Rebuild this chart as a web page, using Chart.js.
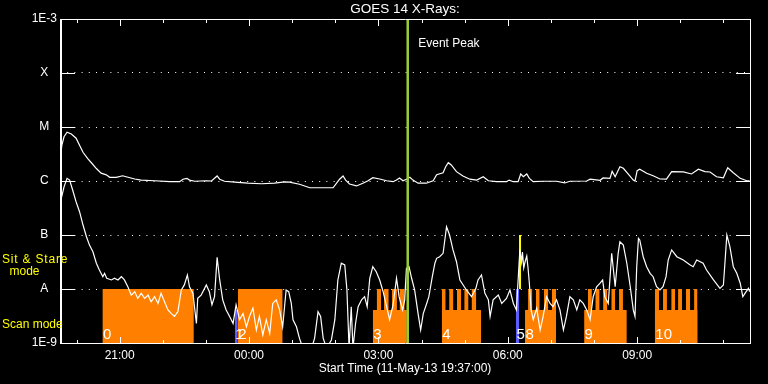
<!DOCTYPE html>
<html><head><meta charset="utf-8">
<script src="https://cdn.jsdelivr.net/npm/chart.js@4.4.1/dist/chart.umd.min.js"></script>
<style>html,body{margin:0;padding:0;background:#000;}canvas{display:block;}</style>
</head><body>
<canvas id="c" width="768" height="384"></canvas>
<script>
// ---- axis ranges / labels (hours of 11-May-13, >24 = next day) ----
const X_MIN = 19.6167, X_MAX = 35.6167;
const chartTitle = 'GOES 14 X-Rays:';
const xTitle = 'Start Time (11-May-13 19:37:00)';
const xTickValues = [21, 24, 27, 30, 33];
const xTickLabels = ['21:00', '00:00', '03:00', '06:00', '09:00'];
const xMinorTicks = [20, 21, 22, 23, 24, 25, 26, 27, 28, 29, 30, 31, 32, 33, 34, 35];
const yTickValues = [1e-9, 1e-8, 1e-7, 1e-6, 1e-5, 1e-4, 1e-3];
const yTickLabels = ['1E-9', 'A', 'B', 'C', 'M', 'X', '1E-3'];

// ---- GOES long channel (1-8 A), W/m^2 ----
const longTimes = [
19.63,19.66,19.71,19.78,19.88,19.99,20.07,20.15,20.26,20.34,
20.46,20.57,20.69,20.77,20.92,21.07,21.15,21.35,21.50,21.81,
22.16,22.39,22.47,22.56,22.62,22.74,23.01,23.13,23.26,23.32,
23.43,23.67,23.97,24.29,24.59,24.83,24.94,25.17,25.41,25.71,
25.95,26.03,26.10,26.18,26.24,26.33,26.49,26.64,26.76,26.87,
27.03,27.19,27.34,27.42,27.49,27.57,27.65,27.73,27.80,27.92,
28.11,28.27,28.35,28.50,28.56,28.62,28.69,28.81,28.96,29.12,
29.28,29.43,29.55,29.74,29.97,30.03,30.13,30.24,30.30,30.36,
30.44,30.50,30.59,30.82,31.13,31.32,31.44,31.83,31.91,32.14,
32.21,32.37,32.42,32.49,32.60,32.68,32.79,32.91,32.95,33.00,
33.06,33.22,33.37,33.53,33.68,33.80,34.07,34.26,34.42,34.57,
34.69,34.84,35.00,35.10,35.23,35.39,35.54,35.61];
const longFlux = [
2.9e-6,4.6e-6,6.6e-6,8.0e-6,7.4e-6,6.2e-6,4.6e-6,3.4e-6,2.6e-6,2.2e-6,
1.7e-6,1.4e-6,1.3e-6,1.17e-6,1.17e-6,1.25e-6,1.2e-6,1.09e-6,1.04e-6,1.01e-6,
9.7e-7,9.7e-7,1.08e-6,1.12e-6,1.04e-6,9.9e-7,1.01e-6,1.0e-6,1.24e-6,1.08e-6,
9.9e-7,9.5e-7,9.1e-7,8.9e-7,9.1e-7,9.6e-7,9.5e-7,8.7e-7,7.5e-7,7.5e-7,
7.5e-7,9.1e-7,1.08e-6,1.24e-6,1.04e-6,8.8e-7,8.1e-7,9.1e-7,1.01e-6,1.15e-6,
1.09e-6,1.01e-6,9.7e-7,1.04e-6,1.14e-6,1.01e-6,1.08e-6,1.17e-6,1.04e-6,9.1e-7,
9.1e-7,1.01e-6,1.31e-6,1.42e-6,1.84e-6,2.18e-6,1.98e-6,1.49e-6,1.24e-6,1.08e-6,
1.04e-6,1.2e-6,1.01e-6,9.7e-7,9.7e-7,1.04e-6,9.7e-7,9.7e-7,1.35e-6,1.2e-6,
1.35e-6,1.12e-6,9.7e-7,9.9e-7,9.9e-7,9.2e-7,9.9e-7,1.0e-6,1.08e-6,1.03e-6,
1.14e-6,1.12e-6,1.51e-6,1.2e-6,1.84e-6,1.72e-6,1.35e-6,1.04e-6,1.0e-6,1.55e-6,
1.65e-6,1.39e-6,1.25e-6,1.09e-6,1.08e-6,1.49e-6,1.47e-6,1.35e-6,1.65e-6,1.49e-6,
1.47e-6,1.2e-6,1.15e-6,1.76e-6,1.42e-6,1.12e-6,1.01e-6,1.01e-6];

// ---- GOES short channel (0.5-4 A), W/m^2 ----
const shortTimes = [
19.63,19.64,19.71,19.78,19.84,19.91,19.99,20.07,20.15,20.23,
20.30,20.38,20.46,20.53,20.61,20.65,20.70,20.81,20.88,20.96,
21.04,21.11,21.19,21.27,21.35,21.42,21.50,21.58,21.66,21.73,
21.81,21.89,21.96,22.04,22.12,22.20,22.27,22.35,22.43,22.50,
22.57,22.62,22.70,22.78,22.81,22.89,23.01,23.08,23.14,23.20,
23.26,23.32,23.39,23.47,23.55,23.63,23.70,23.78,23.86,23.94,
24.01,24.09,24.17,24.24,24.32,24.40,24.48,24.55,24.63,24.71,
24.78,24.86,24.92,24.98,25.02,25.10,25.17,25.25,25.45,25.52,
25.60,25.66,25.72,25.80,25.91,25.99,26.06,26.14,26.22,26.27,
26.32,26.37,26.41,26.47,26.53,26.61,26.68,26.74,26.80,26.87,
26.95,27.03,27.11,27.19,27.26,27.34,27.42,27.48,27.56,27.61,
27.65,27.71,27.77,27.84,27.92,27.98,28.04,28.11,28.17,28.25,
28.31,28.35,28.42,28.50,28.58,28.65,28.73,28.81,28.89,29.04,
29.16,29.26,29.31,29.39,29.47,29.55,29.59,29.66,29.78,29.86,
29.97,30.05,30.13,30.20,30.28,30.32,30.34,30.37,30.40,30.44,
30.47,30.50,30.54,30.59,30.67,30.75,30.82,30.90,30.98,31.05,
31.13,31.21,31.29,31.36,31.44,31.52,31.60,31.67,31.75,31.83,
31.91,31.98,32.06,32.14,32.20,32.25,32.33,32.41,32.45,32.49,
32.56,32.60,32.68,32.76,32.84,32.91,32.95,32.99,33.03,33.06,
33.14,33.22,33.30,33.37,33.45,33.53,33.60,33.67,33.72,33.80,
33.92,34.07,34.23,34.30,34.38,34.53,34.61,34.77,34.92,35.00,
35.04,35.08,35.15,35.23,35.31,35.39,35.45,35.50,35.58,35.61];
const shortFlux = [
2.5e-7,4.5e-7,7.8e-7,1.12e-6,1.04e-6,6.8e-7,4.1e-7,2.7e-7,1.53e-7,9.3e-8,
6.5e-8,4.9e-8,3.0e-8,2.25e-8,1.69e-8,1.95e-8,1.58e-8,1.47e-8,1.58e-8,1.47e-8,
1.69e-8,1.47e-8,1.1e-8,7.7e-9,8.9e-9,6.7e-9,8.3e-9,6.7e-9,7.7e-9,5.8e-9,
7.2e-9,5.4e-9,8.3e-9,5.8e-9,4.1e-9,3.5e-9,3.1e-9,3.8e-9,9.6e-9,1.19e-8,
1.82e-8,1.1e-8,8.3e-9,2.3e-9,6.7e-9,7.7e-9,1.19e-8,8.9e-9,5.1e-9,7.2e-9,
3.86e-8,1.47e-8,6.3e-9,4.1e-9,3.1e-9,2.3e-9,5.1e-9,2.7e-9,3.5e-9,2.0e-9,
3.1e-9,4.4e-9,1.74e-9,3.1e-9,1.41e-9,2.7e-9,1.51e-9,5.4e-9,6.3e-9,4.1e-9,
2.0e-9,9.6e-9,8.9e-9,5.4e-9,2.7e-9,2.0e-9,1.22e-9,8e-10,8e-10,1.22e-9,
3.8e-9,3.1e-9,1.22e-9,8e-10,1.14e-9,2.7e-9,1.47e-8,3.0e-8,2.8e-8,9.6e-9,
8e-10,4.7e-9,8e-10,2.3e-9,4.7e-9,6.3e-9,7.2e-9,4.7e-9,1.58e-8,2.59e-8,
2.09e-8,1.47e-8,8.9e-9,4.7e-9,2.7e-9,5.1e-9,1.58e-8,7.2e-9,4.1e-9,6.3e-9,
2.42e-8,2.59e-8,1.58e-8,9.6e-9,3.5e-9,1.74e-9,3.5e-9,5.1e-9,7.2e-9,1.69e-8,
3.0e-8,3.7e-8,3.96e-8,4.58e-8,1.42e-7,1.0e-7,5.3e-8,3.2e-8,1.47e-8,9.6e-9,
7.2e-9,1.03e-8,1.47e-8,1.82e-8,8.3e-9,6.3e-9,3.1e-9,6.3e-9,7.7e-9,5.4e-9,
6.7e-9,9.6e-9,5.4e-9,4.1e-9,5.3e-8,3.16e-8,4.84e-8,2.45e-8,3.16e-8,4.08e-8,
2.45e-8,1.29e-8,4.1e-9,2.7e-9,4.4e-9,1.74e-9,3.1e-9,7.2e-9,5.4e-9,4.7e-9,
6.3e-9,4.1e-9,1.74e-9,3.1e-9,7.2e-9,6.3e-9,4.1e-9,6.3e-9,5.4e-9,4.1e-9,
2.7e-9,7.2e-9,1.1e-8,1.28e-8,1.47e-8,7.2e-9,5.4e-9,4.58e-8,2.25e-8,1.1e-8,
4.58e-8,7.5e-8,6.5e-8,3.0e-8,1.1e-8,4.1e-9,3.1e-9,2.59e-8,8.7e-8,8.1e-8,
3.96e-8,2.59e-8,1.95e-8,1.69e-8,1.1e-8,9.6e-9,1.1e-8,1.69e-8,3.44e-8,5.3e-8,
3.96e-8,3.44e-8,2.78e-8,2.59e-8,3.44e-8,3.0e-8,2.25e-8,1.47e-8,1.03e-8,1.19e-8,
3.44e-8,1.0e-7,6.07e-8,2.59e-8,1.95e-8,1.28e-8,7.2e-9,8.3e-9,1.03e-8,8.9e-9];

// ---- observation mode intervals (hours) ----
const scanLevel = 1e-8, baseLevel = 4.1e-9, stareLevel = 1e-7;
const scanFull = [[20.60, 22.72], [23.74, 24.78]];
const scanBase = [[26.87, 27.66], [28.47, 29.38], [30.40, 31.12], [31.77, 32.76], [33.41, 34.40]];
const scanTeeth = [
  [26.96, 27.06], [27.13, 27.24], [27.31, 27.43], [27.49, 27.61],
  [28.47, 28.56], [28.64, 28.74], [28.82, 28.92], [28.99, 29.09], [29.16, 29.27],
  [30.47, 30.57], [30.65, 30.74], [30.84, 30.94], [31.02, 31.12],
  [31.86, 31.95], [32.03, 32.13], [32.21, 32.31], [32.40, 32.49], [32.58, 32.67],
  [33.41, 33.51], [33.60, 33.69], [33.79, 33.88], [33.95, 34.04], [34.13, 34.23], [34.32, 34.40]];
const blueBars = [[23.67, 23.74], [30.19, 30.26]];
const blueTops = [4.1e-9, 1e-8];
const yellowBars = [[30.26, 30.31]];
const eventPeak = 27.68;
const blockLabels = ['0', '1', '2', '3', '4', '5', '8', '9', '10'];
const blockLabelTimes = [20.60, 23.67, 23.74, 26.87, 28.47, 30.19, 30.40, 31.77, 33.41];

const FONT = 'Liberation Sans';

// one filled dataset per interval: a flat line at the top level filled down to a target
function rectDataset(label, a, b, top, fill, color, order) {
  return {label, data: [{x: a, y: top}, {x: b, y: top}], borderWidth: 0, borderColor: 'rgba(0,0,0,0)',
          backgroundColor: color, pointRadius: 0, fill, order};
}
const modeDatasets = [];
scanFull.forEach(([a, b]) => modeDatasets.push(rectDataset('Scan mode', a, b, scanLevel, 'start', '#ff8000', 3)));
scanBase.forEach(([a, b]) => modeDatasets.push(rectDataset('Scan mode', a, b, baseLevel, 'start', '#ff8000', 3)));
scanTeeth.forEach(([a, b]) => modeDatasets.push(rectDataset('Scan mode', a, b, scanLevel, 'start', '#ff8000', 3)));
blueBars.forEach(([a, b], i) => modeDatasets.push(rectDataset('Transition', a, b, blueTops[i], 'start', '#5c5cff', 2)));
yellowBars.forEach(([a, b]) => modeDatasets.push(rectDataset('Sit & Stare', a, b, stareLevel, {value: scanLevel}, '#ffff00', 2)));

const deco = {
  id: 'deco',
  beforeDraw(chart) {
    const c = chart.ctx; c.save(); c.fillStyle = '#000'; c.fillRect(0, 0, chart.width, chart.height); c.restore();
  },
  afterDatasetsDraw(chart) {
    const c = chart.ctx, a = chart.chartArea, x = chart.scales.x, y = chart.scales.y;
    c.save();
    c.fillStyle = '#fff'; c.font = '15px "' + FONT + '"'; c.textAlign = 'left'; c.textBaseline = 'alphabetic';
    blockLabels.forEach((t, i) => c.fillText(t, x.getPixelForValue(blockLabelTimes[i]) + 0.5, a.bottom - 4.5));
    c.strokeStyle = '#fff'; c.lineWidth = 1; c.setLineDash([]);
    c.beginPath();
    c.moveTo(a.left, a.top + 0.5); c.lineTo(a.right + 1, a.top + 0.5);
    c.moveTo(a.left, a.bottom + 0.5); c.lineTo(a.right + 1, a.bottom + 0.5);
    c.moveTo(a.right + 0.5, a.top); c.lineTo(a.right + 0.5, a.bottom + 1);
    yTickValues.forEach(v => {
      const py = Math.round(y.getPixelForValue(v)) + 0.5;
      c.moveTo(a.left, py); c.lineTo(a.left + 15, py);
      c.moveTo(a.right - 14, py); c.lineTo(a.right + 1, py);
    });
    xMinorTicks.forEach(h => {
      const px = Math.round(x.getPixelForValue(h)) + 0.5;
      const len = xTickValues.includes(h) ? 7 : 4;
      c.moveTo(px, a.top); c.lineTo(px, a.top + len);
      c.moveTo(px, a.bottom + 1); c.lineTo(px, a.bottom + 1 - len);
    });
    c.stroke();
    c.lineWidth = 2; c.beginPath(); c.moveTo(a.left + 1, a.top); c.lineTo(a.left + 1, a.bottom + 1); c.stroke();
    c.restore();
  },
  afterDraw(chart) {
    const c = chart.ctx, a = chart.chartArea, x = chart.scales.x, y = chart.scales.y;
    c.save();
    c.textBaseline = 'alphabetic';
    c.font = '12px "' + FONT + '"'; c.fillStyle = '#fff'; c.textAlign = 'left';
    c.fillText('Event Peak', x.getPixelForValue(eventPeak) + 10.5, a.top + 28.3);
    const yA = y.getPixelForValue(scanLevel);
    c.fillStyle = '#ffff00';
    c.textAlign = 'left';
    c.letterSpacing = '0.8px';
    c.fillText('Sit & Stare', 2, yA - 25.7);
    c.letterSpacing = '0px';
    c.textAlign = 'center';
    c.fillText('mode', 24.5, yA - 14);
    c.textAlign = 'left';
    c.fillText('Scan mode', 2, yA + 39.3);
    c.restore();
  }
};

new Chart(document.getElementById('c'), {
  type: 'line',
  data: {
    datasets: [
      {label: 'Event Peak', data: [{x: eventPeak, y: 1e-3}, {x: eventPeak, y: 1e-9}],
       borderColor: '#9acd32', borderWidth: 2.5, pointRadius: 0, fill: false, order: 0},
      {label: 'GOES 1-8 A', data: longTimes.map((t, i) => ({x: t, y: longFlux[i]})),
       borderColor: '#ffffff', borderWidth: 1.2, pointRadius: 0, fill: false, order: 1},
      {label: 'GOES 0.5-4 A', data: shortTimes.map((t, i) => ({x: t, y: shortFlux[i]})),
       borderColor: '#ffffff', borderWidth: 1.2, pointRadius: 0, fill: false, order: 1},
      ...modeDatasets
    ]
  },
  options: {
    responsive: false, animation: false, events: [],
    layout: {padding: {left: 0, right: 18, top: 0, bottom: 0}},
    elements: {line: {tension: 0}, point: {radius: 0}},
    plugins: {legend: {display: false}, tooltip: {enabled: false}, title: {display: false}},
    scales: {
      x: {
        type: 'linear', position: 'bottom', min: X_MIN, max: X_MAX,
        afterBuildTicks: s => { s.ticks = xTickValues.map(v => ({value: v})); },
        afterFit: s => { s.height = 41; },
        grid: {display: false, drawTicks: false}, border: {display: false},
        ticks: {color: '#fff', font: {family: FONT, size: 12}, padding: 5, maxRotation: 0, autoSkip: false,
                callback: (v, i) => xTickLabels[i]},
        title: {display: true, text: xTitle, color: '#fff', font: {family: FONT, size: 12}, padding: {top: 0, bottom: 8}}
      },
      xTop: {
        type: 'linear', axis: 'x', position: 'top', min: X_MIN, max: X_MAX,
        afterFit: s => { s.height = 19; },
        grid: {display: false, drawTicks: false}, border: {display: false}, ticks: {display: false},
        title: {display: true, text: chartTitle, color: '#fff', font: {family: FONT, size: 13.5}, padding: {top: 1, bottom: 0}}
      },
      y: {
        type: 'logarithmic', min: 1e-9, max: 1e-3,
        afterBuildTicks: s => { s.ticks = yTickValues.map(v => ({value: v})); },
        afterFit: s => { s.width = 60; },
        grid: {drawTicks: false, lineWidth: 1,
               color: c => (c.tick && (c.tick.value === 1e-9 || c.tick.value === 1e-3)) ? 'rgba(0,0,0,0)' : '#ffffff'},
        border: {display: false, dash: [1, 6.2]},
        ticks: {color: '#fff', font: {family: FONT, size: 12}, padding: 3, crossAlign: 'center', autoSkip: false,
                callback: (v, i) => yTickLabels[i]}
      }
    }
  },
  plugins: [deco]
});
</script>
</body></html>
